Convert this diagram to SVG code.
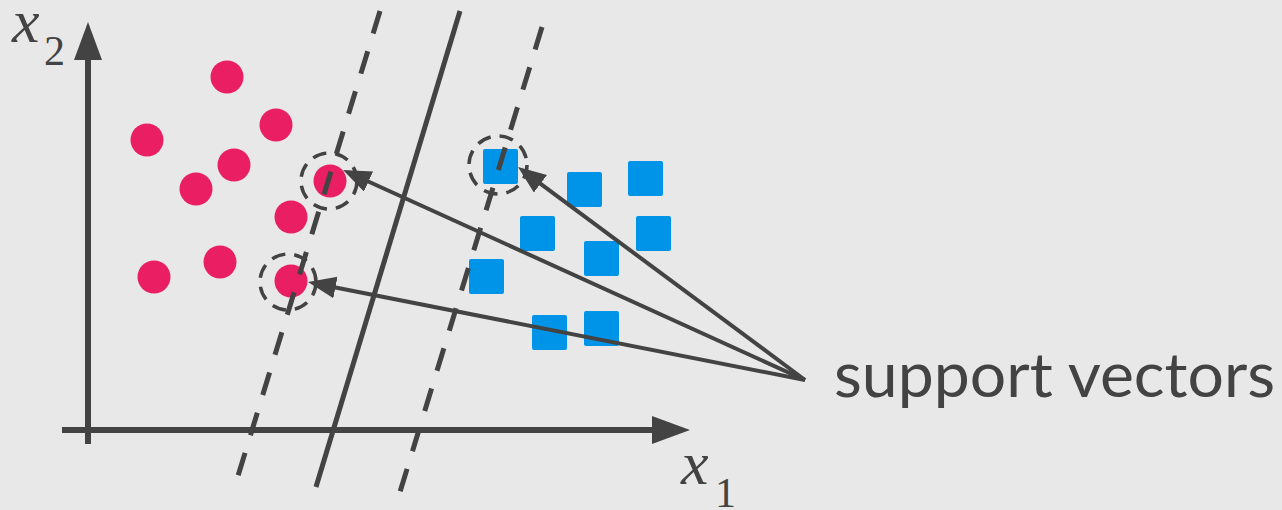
<svg xmlns="http://www.w3.org/2000/svg" width="1282" height="510" viewBox="0 0 1282 510">
<defs>
<style>
.ax{stroke:#434343;stroke-width:6;fill:none}
.hd{fill:#434343}
.sep{stroke:#434343;stroke-width:5;fill:none}
.mg{stroke:#434343;stroke-width:5;fill:none;stroke-dasharray:23.5 18.5}
.sv{stroke:#434343;stroke-width:3.5;fill:none;stroke-dasharray:14 9}
.arr{stroke:#434343;stroke-width:4;fill:none;marker-end:url(#ah)}
.red{fill:#e91e63}
.blue{fill:#0094e8}
.lab{font-family:"Liberation Serif",serif;font-style:italic;fill:#434343}
.sub{font-family:"Liberation Serif",serif;fill:#434343}
.txt{font-family:Lato,"Open Sans",sans-serif;fill:#434343}
</style>
<marker id="ah" markerUnits="userSpaceOnUse" markerWidth="30" markerHeight="24" refX="22" refY="11" orient="auto">
<path d="M0,0 L28,11 L0,22 z" fill="#434343"/>
</marker>
</defs>
<rect width="1282" height="510" fill="#e8e8e8"/>
<g id="axes">
<line class="ax" x1="88" y1="444" x2="88" y2="58"/>
<polygon class="hd" points="88,22 74,60 102,60"/>
<line class="ax" x1="62" y1="430" x2="654" y2="430"/>
<polygon class="hd" points="690,430 652,416 652,444"/>
<text class="lab" x="12" y="42" font-size="62">x</text>
<text class="sub" x="44" y="65" font-size="42">2</text>
<text class="lab" x="681" y="484" font-size="62">x</text>
<text class="sub" x="715" y="507" font-size="42">1</text>
</g>
<g id="separator">
<line class="sep" x1="460" y1="11" x2="316" y2="487"/>
</g>
<g id="class-red">
<circle class="red" cx="227" cy="77" r="16.5"/>
<circle class="red" cx="147" cy="140" r="16.5"/>
<circle class="red" cx="276" cy="125" r="16.5"/>
<circle class="red" cx="234" cy="165" r="16.5"/>
<circle class="red" cx="196" cy="189" r="16.5"/>
<circle class="red" cx="330" cy="181" r="16.5"/>
<circle class="red" cx="291" cy="217" r="16.5"/>
<circle class="red" cx="220" cy="262" r="16.5"/>
<circle class="red" cx="154" cy="277" r="16.5"/>
<circle class="red" cx="291" cy="281" r="16.5"/>
</g>
<g id="class-blue">
<rect class="blue" x="483" y="149" width="35" height="35" rx="2"/>
<rect class="blue" x="567" y="172" width="35" height="35" rx="2"/>
<rect class="blue" x="628" y="161" width="35" height="35" rx="2"/>
<rect class="blue" x="520" y="216" width="35" height="35" rx="2"/>
<rect class="blue" x="636" y="216" width="35" height="35" rx="2"/>
<rect class="blue" x="584" y="241" width="35" height="35" rx="2"/>
<rect class="blue" x="469" y="259" width="35" height="35" rx="2"/>
<rect class="blue" x="532" y="315" width="35" height="35" rx="2"/>
<rect class="blue" x="584" y="311" width="35" height="35" rx="2"/>
</g>
<g id="margins">
<line class="mg" x1="380" y1="11" x2="238" y2="476"/>
<line class="mg" x1="542" y1="27" x2="400" y2="492"/>
</g>
<g id="support-markers">
<circle class="sv" cx="329" cy="181" r="28"/>
<circle class="sv" cx="288" cy="282" r="28"/>
<circle class="sv" cx="498" cy="165" r="29"/>
</g>
<g id="connectors">
<line class="arr" x1="805" y1="380" x2="348.5" y2="172.5"/>
<line class="arr" x1="805" y1="380" x2="313.9" y2="283.2"/>
<line class="arr" x1="805" y1="380" x2="522.8" y2="170.6"/>
</g>
<g id="label">
<text class="txt" x="834" y="397" font-size="62" textLength="441" lengthAdjust="spacingAndGlyphs">support vectors</text>
</g>
</svg>
